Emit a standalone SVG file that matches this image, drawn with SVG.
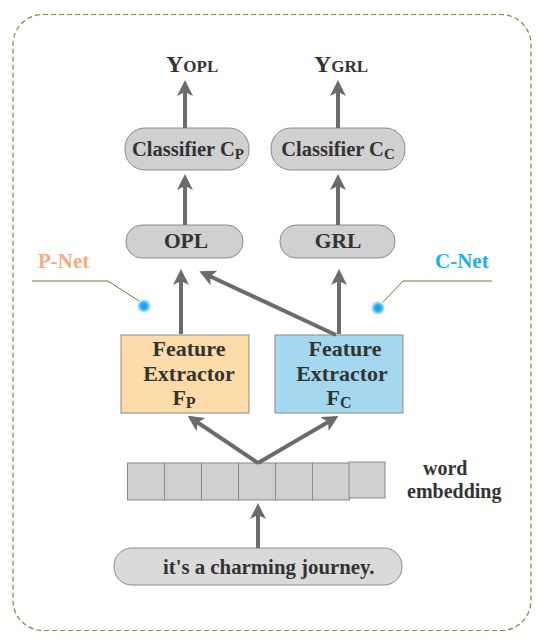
<svg xmlns="http://www.w3.org/2000/svg" width="546" height="644" viewBox="0 0 546 644">
<defs>
<marker id="ah" markerWidth="4" markerHeight="4" refX="3" refY="2" orient="auto" markerUnits="strokeWidth">
<path d="M0,0 L4,2 L0,4 L1,2 Z" fill="#6b6b6b"/>
</marker>
<radialGradient id="dot">
<stop offset="0" stop-color="#1590e0"/>
<stop offset="0.55" stop-color="#35b8f5"/>
<stop offset="1" stop-color="#bfe8fb" stop-opacity="0.5"/>
</radialGradient>
</defs>
<style>
.t{font-family:"Liberation Serif",serif;font-weight:bold;fill:#333}
.pill{fill:#d0d0d0;stroke:#8a8a8a;stroke-width:1}
.con{stroke:#6b6b6b;stroke-width:4;fill:none;marker-end:url(#ah)}
.cell{fill:#d0d0d0;stroke:#8a8a8a;stroke-width:1}
.lead{stroke:#6b7f2a;stroke-width:1;fill:none}
</style>
<rect x="13" y="14.5" width="518" height="616" rx="30" fill="none" stroke="#7a8a3a" stroke-width="1.2" stroke-dasharray="5,3"/>

<g id="y_opl"><text class="t" x="166" y="72" font-size="24" fill="#2d2418">Y<tspan font-size="17">OPL</tspan></text></g>
<g id="y_grl"><text class="t" x="314" y="72" font-size="24" fill="#2d2418">Y<tspan font-size="17">GRL</tspan></text></g>

<g id="classifier_p"><rect class="pill" x="125" y="128" width="124" height="42" rx="20"/><text class="t" x="188" y="156" font-size="20.5" text-anchor="middle">Classifier C<tspan font-size="15" dy="3">P</tspan></text></g>
<g id="classifier_c"><rect class="pill" x="271" y="128" width="134" height="42" rx="20"/><text class="t" x="338" y="156" font-size="20.5" text-anchor="middle">Classifier C<tspan font-size="15" dy="3">C</tspan></text></g>

<g id="opl"><rect class="pill" x="126" y="225" width="117" height="33" rx="16"/><text class="t" x="186" y="248" font-size="21.5" text-anchor="middle">OPL</text></g>
<g id="grl"><rect class="pill" x="280" y="225" width="115" height="33" rx="16"/><text class="t" x="338" y="248" font-size="21.5" text-anchor="middle">GRL</text></g>

<g id="pnet"><text x="38" y="268" font-family="Liberation Serif,serif" font-weight="bold" font-size="21" fill="#f6ab80">P-Net</text><path class="lead" d="M32,281 H108 L139,301"/><circle cx="144" cy="306" r="7" fill="url(#dot)"/></g>
<g id="cnet"><text x="435" y="268" font-family="Liberation Serif,serif" font-weight="bold" font-size="21" fill="#1ab0ef">C-Net</text><path class="lead" d="M492,281 H403 L383,302"/><circle cx="378" cy="308" r="7" fill="url(#dot)"/></g>

<g id="fp"><rect x="121" y="335" width="128" height="78" fill="#fddcaa" stroke="#8a8a8a" stroke-width="1"/>
<text class="t" font-size="22" text-anchor="middle"><tspan x="189" y="356">Feature</tspan><tspan x="189" y="381">Extractor</tspan><tspan x="184" y="405">F<tspan font-size="16" dy="3">P</tspan></tspan></text></g>
<g id="fc"><rect x="275" y="335" width="128" height="78" fill="#a3d8ef" stroke="#8a8a8a" stroke-width="1"/>
<text class="t" font-size="22" text-anchor="middle"><tspan x="345" y="356">Feature</tspan><tspan x="342" y="381">Extractor</tspan><tspan x="339" y="405">F<tspan font-size="16" dy="3">C</tspan></tspan></text></g>

<g id="embedding">
<rect class="cell" x="127.5" y="463" width="37" height="37"/>
<rect class="cell" x="164.5" y="463" width="37" height="37"/>
<rect class="cell" x="201.5" y="463" width="37" height="37"/>
<rect class="cell" x="238.5" y="463" width="37" height="37"/>
<rect class="cell" x="275.5" y="463" width="37" height="37"/>
<rect class="cell" x="312.5" y="463" width="37" height="37"/>
<rect class="cell" x="349" y="462" width="36" height="36"/>
<text class="t" font-size="20"><tspan x="423" y="475">word</tspan><tspan x="407" y="498">embedding</tspan></text>
</g>

<g id="sentence"><rect x="114" y="548" width="288" height="37" rx="18" fill="#dadada" stroke="#8a8a8a" stroke-width="1"/><text class="t" x="163" y="574" font-size="20.8">it's a charming journey.</text></g>

<g id="connectors">
<line class="con" x1="185" y1="128" x2="185" y2="84"/>
<line class="con" x1="338" y1="128" x2="338" y2="84"/>
<line class="con" x1="185" y1="225" x2="185" y2="178"/>
<line class="con" x1="338" y1="225" x2="338" y2="178"/>
<line class="con" x1="181" y1="334" x2="181" y2="273"/>
<line class="con" x1="339" y1="334" x2="339" y2="273"/>
<line class="con" x1="336" y1="335" x2="203" y2="273"/>
<line class="con" x1="258" y1="463" x2="191" y2="418"/>
<line class="con" x1="258" y1="463" x2="335" y2="418"/>
<line class="con" x1="258" y1="548" x2="258" y2="507"/>
</g>
</svg>
